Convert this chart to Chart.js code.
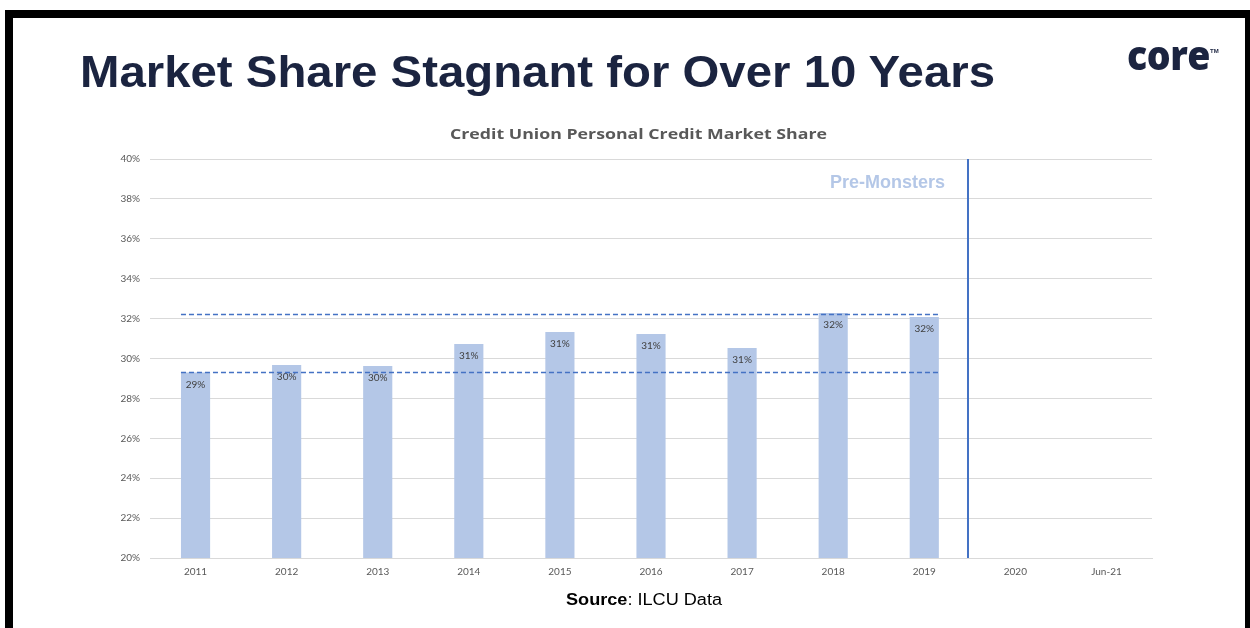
<!DOCTYPE html>
<html>
<head>
<meta charset="utf-8">
<script src="https://cdn.jsdelivr.net/npm/chart.js@4.4.1/dist/chart.umd.min.js"></script>
<style>
  html, body { margin:0; padding:0; background:#fff; }
  body { width:1250px; height:628px; position:relative; overflow:hidden; }
  #frameTop { position:absolute; left:5px; top:10px; width:1245px; height:8px; background:#000; }
  #frameLeft { position:absolute; left:5px; top:10px; width:8px; height:618px; background:#000; }
  #frameRight { position:absolute; left:1245px; top:10px; width:5px; height:618px; background:#000; }
  .txt { position:absolute; white-space:nowrap; transform-origin:0 0; }
  #title { left:80px; top:47px; font-family:"Liberation Sans", Arial, sans-serif; font-weight:bold; font-size:44px; color:#1B2440; }
  #logo { left:1127px; top:27px; font-family:"Open Sans", sans-serif; font-weight:800; font-size:40px; color:#1B2440; letter-spacing:-0.5px; }
  #tm { left:1210px; top:48px; font-family:"Liberation Sans", Arial, sans-serif; font-weight:bold; font-size:6px; color:#1B2440; }
  #ctitle { top:124px; font-family:"Open Sans", sans-serif; font-weight:bold; font-size:14px; color:#595959; }
  #source { top:591px; font-family:"Liberation Sans", Arial, sans-serif; font-size:16px; color:#000; }
  #wrap { position:absolute; left:0; top:0; width:1250px; height:628px; }
</style>
</head>
<body>
<div id="wrap"><canvas id="c" width="1250" height="628"></canvas></div>
<div id="frameTop"></div><div id="frameLeft"></div><div id="frameRight"></div>
<div id="title" class="txt">Market Share Stagnant for Over 10 Years</div>
<div id="logo" class="txt">core</div>
<div id="tm" class="txt">TM</div>
<div id="ctitle" class="txt">Credit Union Personal Credit Market Share</div>
<div id="source" class="txt"><b>Source</b>: ILCU Data</div>
<script>
const categories = ['2011','2012','2013','2014','2015','2016','2017','2018','2019','2020','Jun-21'];
const marketShare = [29.3, 29.67, 29.62, 30.73, 31.33, 31.23, 30.53, 32.28, 32.08, null, null];
const yTicks = [20,22,24,26,28,30,32,34,36,38,40];
const upperRef = 32.23;
const lowerRef = 29.32;
const refFrom = '2011';
const refTo = '2019';
const dividerAfter = '2019';
const dividerLabel = 'Pre-Monsters';

// fit text blocks horizontally to the reference extents
function fit(id, left, width) {
  const el = document.getElementById(id);
  const w = el.getBoundingClientRect().width;
  el.style.left = left + 'px';
  el.style.transform = 'scaleX(' + (width / w) + ')';
}
fit('title', 80, 915);
fit('logo', 1127, 83);
fit('ctitle', 450, 377);
fit('source', 566, 156);

const overlay = {
  id:'overlay',
  afterDatasetsDraw(chart){
    const ctx = chart.ctx, x = chart.scales.x, y = chart.scales.y;
    const meta = chart.getDatasetMeta(0);
    ctx.save();
    ctx.font = '10px Lato, sans-serif';
    ctx.fillStyle = '#404040';
    ctx.textAlign = 'center';
    ctx.textBaseline = 'middle';
    meta.data.forEach((bar,i)=>{
      const v = marketShare[i];
      if (v == null) return;
      ctx.fillText(Math.round(v) + '%', bar.x, bar.y + 12);
    });
    const i0 = categories.indexOf(refFrom), i1 = categories.indexOf(refTo);
    const b0 = meta.data[i0], b1 = meta.data[i1];
    const xs = b0.x - b0.width/2, xe = b1.x + b1.width/2;
    ctx.strokeStyle = '#4472C4';
    ctx.lineWidth = 1.5;
    ctx.setLineDash([5,3]);
    [upperRef, lowerRef].forEach(v=>{
      const py = Math.round(y.getPixelForValue(v)) + 0.5;
      ctx.beginPath(); ctx.moveTo(xs, py); ctx.lineTo(xe, py); ctx.stroke();
    });
    ctx.setLineDash([]);
    ctx.lineWidth = 2;
    const dx = x.getPixelForValue(categories.indexOf(dividerAfter) + 0.48);
    ctx.beginPath(); ctx.moveTo(dx, chart.chartArea.top); ctx.lineTo(dx, chart.chartArea.bottom); ctx.stroke();
    ctx.font = 'bold 18px "Liberation Sans", Arial, sans-serif';
    ctx.fillStyle = '#B4C7E7';
    ctx.textAlign = 'right';
    ctx.fillText(dividerLabel, dx - 23, y.getPixelForValue(38.8));
    ctx.restore();
  }
};

new Chart(document.getElementById('c'), {
  type:'bar',
  data:{ labels:categories, datasets:[{ data:marketShare, backgroundColor:'#B4C7E7', borderWidth:0, categoryPercentage:1, barPercentage:0.32 }] },
  options:{
    responsive:false, animation:false,
    layout:{ padding:{ left:100, right:98, top:159, bottom:0 } },
    plugins:{ legend:{display:false}, tooltip:{enabled:false}, title:{display:false} },
    scales:{
      x:{
        grid:{ display:false, drawTicks:false },
        border:{ display:true, color:'#D9D9D9', width:1 },
        ticks:{ font:{ family:'Lato', size:10 }, color:'#595959', padding:8, maxRotation:0 },
        afterFit(s){ s.height = 70; }
      },
      y:{
        min:20, max:40,
        afterBuildTicks(s){ s.ticks = yTicks.map(v=>({value:v})); },
        grid:{ color:'#D9D9D9', drawTicks:false },
        border:{ display:false },
        ticks:{ font:{ family:'Lato', size:10 }, color:'#595959', padding:10, callback:v=>v+'%' },
        afterFit(s){ s.width = 50; }
      }
    }
  },
  plugins:[overlay]
});
</script>
</body>
</html>
